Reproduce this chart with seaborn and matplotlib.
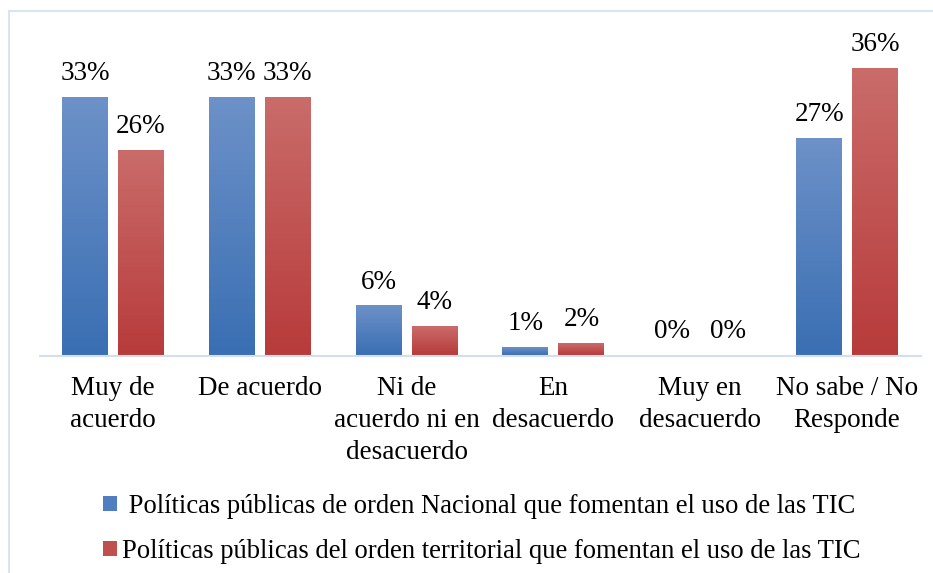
import matplotlib
matplotlib.use("Agg")
import matplotlib.pyplot as plt
import matplotlib.patches as mpatches
from matplotlib.colors import LinearSegmentedColormap
import numpy as np
import pandas as pd
import seaborn as sns

CATEGORIES = [
    "Muy de\nacuerdo",
    "De acuerdo",
    "Ni de\nacuerdo ni en\ndesacuerdo",
    "En\ndesacuerdo",
    "Muy en\ndesacuerdo",
    "No sabe / No\nResponde",
]
NACIONAL = [33.0, 33.0, 6.3, 1.0, 0.0, 27.8]
TERRITORIAL = [26.2, 33.0, 3.7, 1.5, 0.0, 36.7]
NACIONAL_LABELS = ["33%", "33%", "6%", "1%", "0%", "27%"]
TERRITORIAL_LABELS = ["26%", "33%", "4%", "2%", "0%", "36%"]
SERIES = [
    "Políticas públicas de orden Nacional que fomentan el uso de las TIC",
    "Políticas públicas del orden territorial que fomentan el uso de las TIC",
]
LEGEND_TEXT = [" " + SERIES[0], SERIES[1]]

# gradient ends (top, bottom) for each series
GRADIENTS = [("#6d91c8", "#3a6fb3"), ("#c96c6a", "#b83b3b")]
FLAT = ["#4f7fc0", "#c0504d"]
FS = 19.5


def main() -> None:
    sns.set_theme(style="white")
    plt.rcParams["font.family"] = ["Liberation Serif", "DejaVu Serif"]
    plt.rcParams["font.size"] = FS
    plt.rcParams["text.color"] = "black"
    plt.rcParams["xtick.color"] = "black"

    df = pd.DataFrame(
        {
            "categoria": CATEGORIES * 2,
            "valor": NACIONAL + TERRITORIAL,
            "serie": [SERIES[0]] * len(CATEGORIES) + [SERIES[1]] * len(CATEGORIES),
        }
    )

    fig = plt.figure(figsize=(9.33, 5.73), dpi=100)
    ax = fig.add_axes([39.5 / 933, 1 - 355.5 / 573, 881 / 933, 335.5 / 573])

    sns.barplot(
        data=df,
        x="categoria",
        y="valor",
        hue="serie",
        hue_order=SERIES,
        palette=FLAT,
        width=0.763,
        gap=0.179,
        linewidth=0,
        legend=False,
        ax=ax,
    )
    ax.set_xlim(-0.5, len(CATEGORIES) - 0.5)
    ax.set_ylim(0, 335.5 / 7.8)

    # value labels
    for container, labels in zip(ax.containers, [NACIONAL_LABELS, TERRITORIAL_LABELS]):
        ax.bar_label(container, labels=labels, padding=8.5, fontsize=FS, color="black")

    # vertical gradient on each bar
    for container, (top, bottom) in zip(ax.containers, GRADIENTS):
        cmap = LinearSegmentedColormap.from_list("g", [bottom, top])
        for patch in container:
            h = patch.get_height()
            if h <= 0:
                continue
            x0 = patch.get_x()
            w = patch.get_width()
            grad = np.linspace(0, 1, 100).reshape(-1, 1)
            ax.imshow(
                grad,
                cmap=cmap,
                origin="lower",
                aspect="auto",
                extent=[x0, x0 + w, 0, h],
                zorder=patch.get_zorder() + 0.1,
                interpolation="bicubic",
            )
    ax.set_xlim(-0.5, len(CATEGORIES) - 0.5)
    ax.set_ylim(0, 335.5 / 7.8)

    ax.set_xlabel("")
    ax.set_ylabel("")
    ax.set_yticks([])
    ax.tick_params(axis="x", length=0, pad=15, labelsize=FS, labelcolor="black")
    for lbl in ax.get_xticklabels():
        lbl.set_linespacing(1.35)
    for side in ["top", "right", "left"]:
        ax.spines[side].set_visible(False)
    ax.spines["bottom"].set_color("#d3def0")
    ax.spines["bottom"].set_linewidth(1.5)

    # legend
    handles = [mpatches.Patch(facecolor=c, edgecolor="none") for c in FLAT]
    fig.legend(
        handles,
        LEGEND_TEXT,
        loc="center",
        bbox_to_anchor=(482 / 933, 1 - 529 / 573),
        frameon=False,
        fontsize=19.2,
        handlelength=0.5,
        handleheight=0.5,
        handletextpad=0.2,
        labelspacing=0.75,
        labelcolor="black",
    )

    # outer chart frame (left and top edges visible)
    frame = mpatches.Rectangle(
        (9 / 933, -0.05),
        1.1,
        1 - 11 / 573 + 0.05,
        transform=fig.transFigure,
        fill=False,
        edgecolor="#d9e3f1",
        linewidth=1.5,
        clip_on=False,
    )
    fig.patches.append(frame)

    fig.savefig("out.png", dpi=100)


if __name__ == "__main__":
    main()
